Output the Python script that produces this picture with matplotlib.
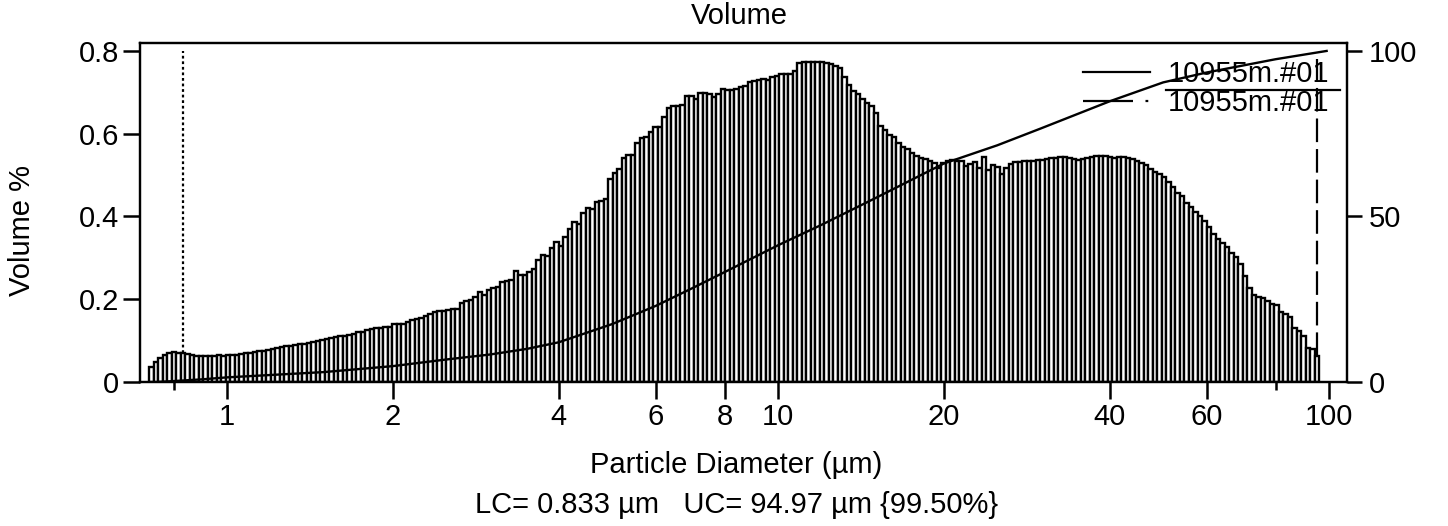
import numpy as np
import matplotlib
matplotlib.use("Agg")
import matplotlib.pyplot as plt
import matplotlib.ticker as ticker
from matplotlib import rcParams
from matplotlib.lines import Line2D

rcParams['font.family'] = ['Liberation Sans', 'DejaVu Sans']
rcParams['lines.scale_dashes'] = False

# channel range of the sizer (um) and cut-offs
d_low = 0.722
d_high = 95.9
lc = 0.833
uc = 94.97
uc_pct = 99.50
sample = "10955m.#01"

# differential volume %, one value per channel
vol = [
    0.036, 0.048, 0.058, 0.065, 0.070, 0.072, 0.071, 0.071, 0.068, 0.065,
    0.064, 0.063, 0.064, 0.064, 0.064, 0.065, 0.064, 0.065, 0.065, 0.066,
    0.067, 0.069, 0.071, 0.073, 0.075, 0.076, 0.078, 0.080, 0.082, 0.084,
    0.086, 0.087, 0.089, 0.091, 0.093, 0.095, 0.097, 0.100, 0.102, 0.104,
    0.106, 0.108, 0.110, 0.112, 0.113, 0.117, 0.120, 0.122, 0.125, 0.128,
    0.130, 0.131, 0.132, 0.134, 0.140, 0.140, 0.141, 0.146, 0.150, 0.152,
    0.154, 0.160, 0.165, 0.169, 0.171, 0.172, 0.173, 0.177, 0.176, 0.192,
    0.195, 0.197, 0.205, 0.217, 0.211, 0.222, 0.226, 0.229, 0.242, 0.245,
    0.247, 0.268, 0.259, 0.258, 0.265, 0.272, 0.295, 0.307, 0.305, 0.323,
    0.339, 0.328, 0.350, 0.369, 0.387, 0.381, 0.408, 0.421, 0.417, 0.436,
    0.437, 0.443, 0.490, 0.506, 0.514, 0.540, 0.548, 0.548, 0.578, 0.590,
    0.592, 0.605, 0.617, 0.617, 0.640, 0.662, 0.668, 0.667, 0.670, 0.692,
    0.690, 0.684, 0.698, 0.699, 0.696, 0.688, 0.695, 0.708, 0.706, 0.706,
    0.708, 0.713, 0.716, 0.724, 0.727, 0.730, 0.732, 0.730, 0.736, 0.740,
    0.743, 0.743, 0.745, 0.752, 0.771, 0.774, 0.772, 0.773, 0.773, 0.772,
    0.771, 0.768, 0.764, 0.758, 0.738, 0.717, 0.703, 0.696, 0.684, 0.674,
    0.668, 0.650, 0.618, 0.610, 0.597, 0.592, 0.578, 0.568, 0.563, 0.553,
    0.546, 0.541, 0.538, 0.535, 0.529, 0.518, 0.529, 0.534, 0.537, 0.535,
    0.533, 0.521, 0.527, 0.531, 0.518, 0.543, 0.513, 0.525, 0.519, 0.502,
    0.516, 0.526, 0.531, 0.532, 0.534, 0.534, 0.535, 0.536, 0.536, 0.538,
    0.541, 0.542, 0.543, 0.543, 0.540, 0.538, 0.537, 0.539, 0.541, 0.543,
    0.545, 0.545, 0.545, 0.544, 0.542, 0.544, 0.543, 0.541, 0.538, 0.534,
    0.530, 0.525, 0.514, 0.508, 0.502, 0.495, 0.483, 0.470, 0.456, 0.449,
    0.433, 0.423, 0.410, 0.400, 0.390, 0.375, 0.358, 0.346, 0.335, 0.327,
    0.311, 0.301, 0.285, 0.255, 0.228, 0.210, 0.206, 0.202, 0.195, 0.189,
    0.185, 0.170, 0.165, 0.157, 0.130, 0.124, 0.112, 0.082, 0.079, 0.064,
]

# cumulative volume % (right axis)
cum_d = [0.75, 0.9, 1.0, 1.5, 2.0, 2.5, 3.0, 3.5, 4.0, 5.0, 6.0, 7.0, 8.0,
         10, 12, 15, 20, 25, 30, 40, 50, 60, 80, 99]
cum_v = [0, 0.8, 1.4, 3.0, 4.8, 6.8, 8.3, 10, 12, 17.5, 23, 28.4, 33.2,
         41.3, 47.5, 55.5, 66, 71.5, 76.6, 84.8, 90.5, 93.5, 97.5, 100]

x_major = [1, 2, 4, 6, 8, 10, 20, 40, 60, 100]
x_minor = [0.8, 80]
y_left = [0, 0.2, 0.4, 0.6, 0.8]
y_right = [0, 50, 100]

W, H = 1448, 526
fs = 21

fig = plt.figure(figsize=(W / 100, H / 100), dpi=100)
ax = fig.add_axes([140 / W, 1 - 382 / H, 1207 / W, 339 / H])
ax.set_xscale('log')

edges = np.geomspace(d_low, d_high, len(vol) + 1)
ax.bar(edges[:-1], vol, width=np.diff(edges), align='edge',
       facecolor='white', edgecolor='black', linewidth=1.7, zorder=2)

# lower / upper cut-off markers
i_lc = np.searchsorted(edges, lc) - 1
ax.vlines(lc, vol[i_lc], 0.8, colors='black', linewidth=1.6,
          linestyles=[(0, (2, 2))], zorder=1)
ax.vlines(uc, vol[-1], 0.78, colors='black', linewidth=1.6,
          linestyles=[(0, (17, 5))], zorder=3)

ax.set_xlim(0.695, 107.8)
ax.set_ylim(0, 0.819)

ax.xaxis.set_major_locator(ticker.FixedLocator(x_major))
ax.xaxis.set_major_formatter(ticker.FixedFormatter([str(v) for v in x_major]))
ax.xaxis.set_minor_locator(ticker.FixedLocator(x_minor))
ax.xaxis.set_minor_formatter(ticker.NullFormatter())
ax.set_yticks(y_left)
ax.yaxis.set_major_formatter(ticker.FuncFormatter(lambda v, pos: '0' if v == 0 else f'{v:.1f}'))

ax.tick_params(axis='both', which='major', direction='out', length=12, width=1.8,
               labelsize=fs, pad=3)
ax.tick_params(axis='x', which='minor', direction='out', length=6, width=1.8)
for s in ax.spines.values():
    s.set_linewidth(1.6)

ax2 = ax.twinx()
ax2.plot(cum_d, cum_v, color='black', linewidth=1.7, zorder=4)
ax2.set_ylim(0, 102.4)
ax2.set_yticks(y_right)
ax2.tick_params(axis='y', direction='out', length=11, width=1.8, labelsize=fs, pad=5)
for s in ax2.spines.values():
    s.set_linewidth(1.6)

# legend
handles = [Line2D([], [], color='black', linewidth=1.6),
           Line2D([], [], color='black', linewidth=1.6, linestyle=(0, (36, 9, 2, 9)))]
ax2.legend(handles, [sample, sample], loc='upper left',
           bbox_to_anchor=(1083 / W, 1 - 60 / H), bbox_transform=fig.transFigure,
           frameon=False, borderpad=0, borderaxespad=0, handlelength=2.3,
           handletextpad=0.6, labelspacing=0.05, fontsize=fs)
fig.add_artist(Line2D([1166 / W, 1340 / W], [1 - 90 / H, 1 - 90 / H],
                      color='black', linewidth=1.6))

# texts
fig.text(739 / W, 1 - 16 / H, "Volume", ha='center', va='center', fontsize=fs)
fig.text(22 / W, 1 - 231 / H, "Volume %", rotation=90, ha='center', va='center', fontsize=fs)
fig.text(736 / W, 1 - 465 / H, "Particle Diameter (µm)", ha='center', va='center', fontsize=fs)
fig.text(737 / W, 1 - 505 / H, f"LC= {lc} µm   UC= {uc} µm {{{uc_pct:.2f}%}}",
         ha='center', va='center', fontsize=fs)

fig.savefig("out.png", dpi=100)
plt.close(fig)
